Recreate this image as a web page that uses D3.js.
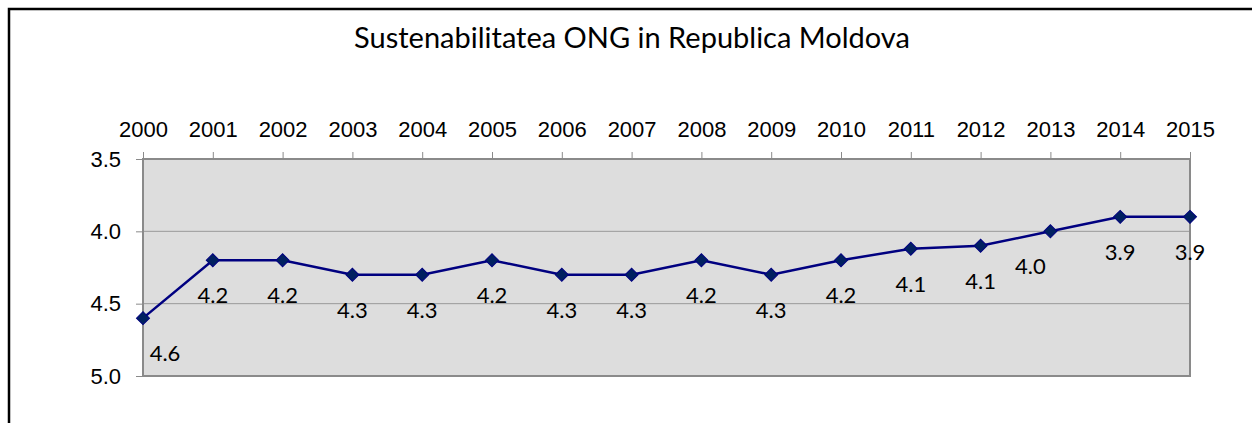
<!DOCTYPE html>
<html>
<head>
<meta charset="utf-8">
<script src="https://cdn.jsdelivr.net/npm/d3@7"></script>
<style>
  body { margin: 0; background: #fff; }
  svg { display: block; font-family: "Lato", "Open Sans", sans-serif; }
</style>
</head>
<body>
<svg id="grafica" width="1252" height="423"></svg>
<script>
// datos
const anios = ["2000","2001","2002","2003","2004","2005","2006","2007","2008","2009","2010","2011","2012","2013","2014","2015"];
const valores = [4.6, 4.2, 4.2, 4.3, 4.3, 4.2, 4.3, 4.3, 4.2, 4.3, 4.2, 4.12, 4.1, 4.0, 3.9, 3.9];
const etiquetas = ["4.6","4.2","4.2","4.3","4.3","4.2","4.3","4.3","4.2","4.3","4.2","4.1","4.1","4.0","3.9","3.9"];
const ticksY = [3.5, 4.0, 4.5, 5.0];
const titulo = "Sustenabilitatea ONG in Republica Moldova";

const svg = d3.select("#grafica");

// marco exterior (solo se ven borde izquierdo y superior)
svg.append("path")
  .attr("d", "M9,430 L9,9 L1260,9")
  .attr("fill", "none")
  .attr("stroke", "#000")
  .attr("stroke-width", 2.5);

svg.append("text")
  .attr("x", 632).attr("y", 48)
  .attr("text-anchor", "middle")
  .attr("font-size", 29)
  .attr("fill", "#000")
  .text(titulo);

const izq = 143, der = 1190, arriba = 159, abajo = 376;

const x = d3.scalePoint().domain(anios).range([izq, der]);
const y = d3.scaleLinear().domain([3.5, 5.0]).range([arriba, abajo]);

// area del grafico
svg.append("rect")
  .attr("x", izq).attr("y", arriba)
  .attr("width", der - izq).attr("height", abajo - arriba)
  .attr("fill", "#dddddd");

// lineas de rejilla
svg.append("g")
  .selectAll("line")
  .data([4.0, 4.5])
  .join("line")
  .attr("x1", izq).attr("x2", der)
  .attr("y1", d => y(d)).attr("y2", d => y(d))
  .attr("stroke", "#9a9a9a")
  .attr("stroke-width", 1);

svg.append("rect")
  .attr("x", izq).attr("y", arriba)
  .attr("width", der - izq).attr("height", abajo - arriba)
  .attr("fill", "none")
  .attr("stroke", "#8a8a8a")
  .attr("stroke-width", 2);

// eje x arriba
const ejeX = svg.append("g")
  .attr("transform", `translate(0,${arriba})`)
  .call(d3.axisTop(x).tickSize(7).tickPadding(15));
ejeX.select(".domain").remove();
ejeX.selectAll(".tick line").attr("stroke", "#8a8a8a");
ejeX.selectAll(".tick text").attr("font-size", 22).attr("fill", "#000").attr("font-family", null);

// eje y izquierdo
const ejeY = svg.append("g")
  .attr("transform", `translate(${izq},0)`)
  .call(d3.axisLeft(y).tickValues(ticksY).tickFormat(d3.format(".1f")).tickSize(7).tickPadding(15));
ejeY.select(".domain").remove();
ejeY.selectAll(".tick line").attr("stroke", "#8a8a8a");
ejeY.selectAll(".tick text").attr("font-size", 22).attr("fill", "#000").attr("font-family", null);

// linea
const linea = d3.line()
  .x((d, i) => x(anios[i]))
  .y(d => y(d));

svg.append("path")
  .datum(valores)
  .attr("d", linea)
  .attr("fill", "none")
  .attr("stroke", "#000080")
  .attr("stroke-width", 2.5);

// marcadores rombo
svg.append("g")
  .selectAll("path")
  .data(valores)
  .join("path")
  .attr("d", d3.symbol(d3.symbolSquare, 85)())
  .attr("transform", (d, i) => `translate(${x(anios[i])},${y(d)}) rotate(45)`)
  .attr("fill", "#002060")
  .attr("stroke", "#000080")
  .attr("stroke-width", 1);

// etiquetas de datos (el primero y 2013 van desplazados, como en Excel)
const ajusteX = { "2000": 22, "2013": -20 };
svg.append("g")
  .selectAll("text")
  .data(valores)
  .join("text")
  .attr("x", (d, i) => x(anios[i]) + (ajusteX[anios[i]] || 0))
  .attr("y", d => y(d) + 43)
  .attr("text-anchor", "middle")
  .attr("font-size", 22)
  .attr("fill", "#000")
  .text((d, i) => etiquetas[i]);
</script>
</body>
</html>
